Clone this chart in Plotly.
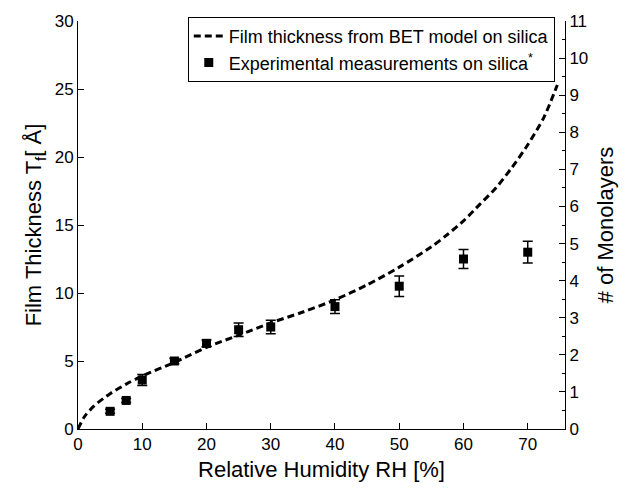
import plotly.graph_objects as go

# Experimental measurements on silica
rh_exp = [5, 7.5, 10, 15, 20, 25, 30, 40, 50, 60, 70]
t_exp = [1.3, 2.1, 3.6, 5.0, 6.3, 7.3, 7.5, 9.0, 10.5, 12.5, 13.0]
t_err = [0.15, 0.15, 0.4, 0.2, 0.25, 0.5, 0.5, 0.5, 0.75, 0.7, 0.8]

# BET model curve
rh_bet = [0, 1, 2.5, 5, 7.5, 10, 15, 20, 25, 30, 35, 40, 45, 50, 55, 57.5, 60, 62.5, 65, 67.5, 70, 72.5, 74.6]
t_bet = [0, 0.9, 1.7, 2.6, 3.3, 3.9, 4.9, 6.0, 6.9, 7.8, 8.6, 9.5, 10.6, 11.9, 13.4, 14.3, 15.3, 16.5, 17.7, 19.2, 20.9, 22.9, 25.3]

x_ticks = [0, 10, 20, 30, 40, 50, 60, 70]
y_ticks = [0, 5, 10, 15, 20, 25, 30]
y2_ticks = list(range(0, 12))

FONT = "Liberation Sans, Arial, Helvetica, sans-serif"

fig = go.Figure()
fig.add_trace(go.Scatter(
    x=rh_bet, y=t_bet, mode="lines", line_shape="spline",
    line=dict(color="black", width=3, dash="7px,4px", smoothing=0.8),
    name="Film thickness from BET model on silica",
))
fig.add_trace(go.Scatter(
    x=rh_exp, y=t_exp, mode="markers",
    marker=dict(symbol="square", size=9, color="black"),
    error_y=dict(type="data", array=t_err, color="black", thickness=1.5, width=5),
    name="Experimental measurements on silica<sup>*</sup>",
))
fig.add_trace(go.Scatter(x=[0], y=[0], yaxis="y2", mode="markers",
                         marker=dict(opacity=0), showlegend=False, hoverinfo="skip"))

fig.update_layout(
    width=628, height=490,
    margin=dict(l=78, r=63, t=19, b=57),
    paper_bgcolor="white", plot_bgcolor="white",
    font=dict(family=FONT, color="black", size=17),
    showlegend=True,
    legend=dict(x=0.979, y=1.01, xanchor="right", yanchor="top",
                bordercolor="black", borderwidth=1, bgcolor="white",
                font=dict(size=18, family=FONT), tracegroupgap=0,
                itemwidth=30),
    xaxis=dict(range=[0, 75.8], tickvals=x_ticks, ticks="inside", ticklen=6,
               tickcolor="black", showline=True, linecolor="black", linewidth=1,
               showgrid=False, zeroline=False,
               title=dict(text="Relative Humidity RH [%]", font=dict(size=22), standoff=8)),
    yaxis=dict(range=[0, 30], tickvals=y_ticks, ticks="inside", ticklen=6,
               tickcolor="black", showline=True, linecolor="black", linewidth=1,
               showgrid=False, zeroline=False,
               title=dict(text="Film Thickness T<sub>f</sub>[ Å]", font=dict(size=22), standoff=6)),
    yaxis2=dict(range=[0, 11], tickvals=y2_ticks, overlaying="y", side="right",
                ticks="inside", ticklen=6, tickcolor="black",
                minor=dict(dtick=0.5, ticks="inside", ticklen=3, tickcolor="black"),
                showline=True, linecolor="black", linewidth=1,
                showgrid=False, zeroline=False,
                title=dict(text="# of Monolayers", font=dict(size=22), standoff=10)),
)

fig.write_html("out.html")
